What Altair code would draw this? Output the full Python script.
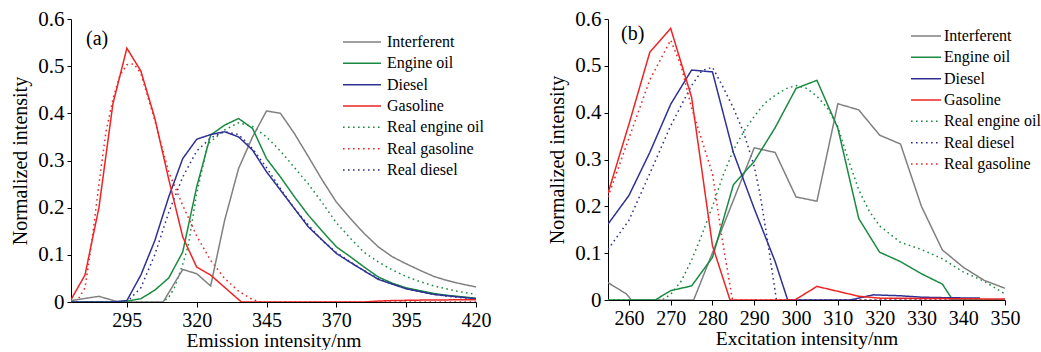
import altair as alt
import pandas as pd

FONT = "Liberation Serif"

SERIES_A = ["Interferent", "Engine oil", "Diesel", "Gasoline",
            "Real engine oil", "Real gasoline", "Real diesel"]
LABELS_A = ["Interferent", "Engine oil", "\u00a0Diesel", "\u00a0\u00a0Gasoline",
            "Real engine oil", "Real gasoline", "Real diesel"]
SERIES_B = ["Interferent", "Engine oil", "Diesel", "Gasoline",
            "Real engine oil", "Real diesel", "Real gasoline"]
LABELS_B = SERIES_B

ALL_SERIES = ["Interferent", "Engine oil", "Diesel", "Gasoline",
              "Real engine oil", "Real gasoline", "Real diesel"]
COLORS = ["#808080", "#1a8a42", "#2e3192", "#ee2424",
          "#1a8a42", "#ee2424", "#2e3192"]
DASHES = [[1, 0], [1, 0], [1, 0], [1, 0], [1.6, 3.4], [1.6, 3.4], [1.6, 3.4]]

# ---------------- Panel (a): emission ----------------
a_int_x = [275, 285, 292, 300, 308, 315, 320, 325, 330, 335, 340, 345, 350, 355, 360,
           365, 370, 375, 380, 385, 390, 395, 400, 405, 410, 415, 420]
a_int_y = [0.003, 0.012, 0.0, 0.0, 0.0, 0.069, 0.06, 0.034, 0.173, 0.283, 0.35, 0.405,
           0.4, 0.357, 0.308, 0.258, 0.212, 0.177, 0.145, 0.117, 0.096, 0.081, 0.067,
           0.054, 0.045, 0.038, 0.032]

a_oil_x = [275, 290, 295, 300, 305, 310, 315, 320, 325, 330, 335, 340, 345, 350, 355,
           360, 365, 370, 375, 380, 385, 390, 395, 400, 405, 410, 415, 420]
a_oil_y = [0.0, 0.0, 0.002, 0.007, 0.025, 0.051, 0.106, 0.244, 0.354, 0.375, 0.389,
           0.368, 0.304, 0.265, 0.223, 0.184, 0.15, 0.117, 0.096, 0.074, 0.053, 0.04,
           0.03, 0.024, 0.018, 0.014, 0.011, 0.008]

a_die_x = [275, 290, 295, 300, 305, 310, 315, 320, 325, 330, 335, 340, 345, 350, 355,
           360, 365, 370, 375, 380, 385, 390, 395, 400, 405, 410, 415, 420]
a_die_y = [0.0, 0.0, 0.003, 0.057, 0.13, 0.223, 0.304, 0.345, 0.355, 0.361, 0.35,
           0.322, 0.276, 0.237, 0.198, 0.159, 0.131, 0.103, 0.084, 0.066, 0.048, 0.038,
           0.028, 0.022, 0.016, 0.013, 0.01, 0.007]

a_gas_x = [275, 280, 285, 290, 295, 300, 305, 310, 315, 320, 325, 336, 380, 385, 390,
           400, 420]
a_gas_y = [0.005, 0.057, 0.2, 0.42, 0.538, 0.49, 0.39, 0.26, 0.138, 0.074, 0.057, 0.0,
           0.0, 0.002, 0.003, 0.004, 0.005]

a_roil_x = [275, 308, 310, 312, 315, 317, 320, 324, 330, 335, 340, 345, 350, 355, 360,
            365, 370, 375, 380, 385, 390, 395, 400, 405, 410, 415, 420]
a_roil_y = [0.0, 0.0, 0.01, 0.03, 0.08, 0.12, 0.23, 0.335, 0.365, 0.38, 0.372, 0.35,
            0.32, 0.285, 0.25, 0.21, 0.168, 0.135, 0.105, 0.085, 0.068, 0.054, 0.043,
            0.034, 0.027, 0.021, 0.016]

a_rgas_x = [275, 277, 280, 282.5, 285, 287.5, 290, 292.5, 295, 297.5, 300, 305, 310,
            315, 320, 325, 330, 335, 340, 343, 420]
a_rgas_y = [0.0, 0.0, 0.03, 0.13, 0.25, 0.36, 0.43, 0.48, 0.503, 0.505, 0.485, 0.385,
            0.275, 0.205, 0.14, 0.088, 0.05, 0.023, 0.005, 0.0, 0.0]

a_rdie_x = [275, 295, 300, 305, 310, 315, 320, 325, 330, 335, 340, 345, 350, 355, 360,
            365, 370, 375, 380, 385, 390, 395, 400, 405, 410, 415, 420]
a_rdie_y = [0.0, 0.0, 0.03, 0.1, 0.19, 0.265, 0.32, 0.348, 0.361, 0.355, 0.325, 0.285,
            0.24, 0.198, 0.163, 0.13, 0.105, 0.085, 0.066, 0.05, 0.038, 0.029, 0.022,
            0.016, 0.012, 0.009, 0.006]

# ---------------- Panel (b): excitation ----------------
b_int_x = [255, 259.4, 260.6, 275.5, 290, 295, 300, 305, 310, 315, 320, 325, 330, 335,
           340, 345, 350]
b_int_y = [0.037, 0.013, 0.0, 0.0, 0.325, 0.315, 0.22, 0.211, 0.419, 0.406, 0.352,
           0.333, 0.2, 0.107, 0.07, 0.042, 0.025]

b_oil_x = [255, 266.3, 270, 275, 280, 285, 290, 295, 300, 305, 310, 315, 320, 325, 330,
           335, 337.5, 350]
b_oil_y = [0.0, 0.0, 0.02, 0.03, 0.091, 0.246, 0.296, 0.368, 0.452, 0.469, 0.367, 0.174,
           0.102, 0.082, 0.056, 0.034, 0.0, 0.0]

b_die_x = [255, 260, 265, 270, 275, 280, 285, 290, 295, 298, 313, 318.5, 325, 330, 335,
           344]
b_die_y = [0.162, 0.223, 0.315, 0.418, 0.491, 0.487, 0.315, 0.195, 0.082, 0.0, 0.0,
           0.011, 0.009, 0.006, 0.005, 0.004]

b_gas_x = [255, 260, 265, 270, 275, 280, 284.2, 299.7, 305, 315, 320, 350]
b_gas_y = [0.228, 0.375, 0.529, 0.58, 0.433, 0.116, 0.0, 0.0, 0.029, 0.008, 0.004,
           0.002]

b_roil_x = [255, 268, 270, 272.5, 275, 277.5, 280, 282.5, 285, 287.5, 290, 292.5, 295,
            297.5, 300, 302.5, 305, 307.5, 310, 312.5, 315, 317.5, 320, 325, 330, 335,
            340, 345, 350]
b_roil_y = [0.0, 0.0, 0.012, 0.04, 0.085, 0.14, 0.2, 0.265, 0.32, 0.36, 0.392, 0.42,
            0.437, 0.451, 0.458, 0.452, 0.435, 0.41, 0.37, 0.3, 0.235, 0.19, 0.158,
            0.123, 0.108, 0.088, 0.06, 0.04, 0.013]

b_rdie_x = [255, 260, 265, 270, 275, 277.5, 280, 282.5, 285, 287.5, 290, 291.5, 293,
            294.2, 295.3, 350]
b_rdie_y = [0.108, 0.17, 0.27, 0.372, 0.458, 0.49, 0.497, 0.455, 0.41, 0.357, 0.285,
            0.22, 0.137, 0.066, 0.0, 0.0]

b_rgas_x = [255, 260, 265, 270, 272.5, 275, 277.5, 280, 281, 282.2, 283.4, 284.8, 350]
b_rgas_y = [0.22, 0.345, 0.47, 0.555, 0.5, 0.41, 0.34, 0.27, 0.209, 0.137, 0.073, 0.0,
            0.0]


def frame(pairs):
    rows = []
    for name, xs, ys in pairs:
        for xv, yv in zip(xs, ys):
            rows.append({"series": name, "x": xv, "y": yv})
    return pd.DataFrame(rows)


df_a = frame([
    ("Real engine oil", a_roil_x, a_roil_y),
    ("Real gasoline", a_rgas_x, a_rgas_y),
    ("Real diesel", a_rdie_x, a_rdie_y),
    ("Interferent", a_int_x, a_int_y),
    ("Engine oil", a_oil_x, a_oil_y),
    ("Diesel", a_die_x, a_die_y),
    ("Gasoline", a_gas_x, a_gas_y),
])
df_b = frame([
    ("Real engine oil", b_roil_x, b_roil_y),
    ("Real diesel", b_rdie_x, b_rdie_y),
    ("Real gasoline", b_rgas_x, b_rgas_y),
    ("Interferent", b_int_x, b_int_y),
    ("Engine oil", b_oil_x, b_oil_y),
    ("Diesel", b_die_x, b_die_y),
    ("Gasoline", b_gas_x, b_gas_y),
])

color_scale = alt.Scale(domain=ALL_SERIES, range=COLORS)
dash_scale = alt.Scale(domain=ALL_SERIES, range=DASHES)

Y_TICKS = [0, 0.1, 0.2, 0.3, 0.4, 0.5, 0.6]
A_TICKS = [295, 320, 345, 370, 395, 420]
B_TICKS = [260, 270, 280, 290, 300, 310, 320, 330, 340, 350]

AXIS_STYLE = dict(grid=False, domainColor="black", domainWidth=1, tickColor="black",
                  tickWidth=1, labelColor="black", titleColor="black", labelFont=FONT,
                  titleFont=FONT, titleFontWeight="normal", labelFlush=False,
                  labelOverlap=False)


def panel(df, xdom, xticks, xtitle, series, labels, tag, w, h, leg_x, leg_len,
          leg_text_x, leg_top, tag_xy):
    lines = alt.Chart(df).mark_line(strokeWidth=1.5, clip=True).encode(
        x=alt.X("x:Q", scale=alt.Scale(domain=xdom, nice=False, zero=False),
                axis=alt.Axis(values=xticks, title=xtitle, format="d", tickSize=5,
                              labelPadding=3, titlePadding=1, labelFontSize=20,
                              titleFontSize=19.5, **AXIS_STYLE)),
        y=alt.Y("y:Q", scale=alt.Scale(domain=[0, 0.6], nice=False),
                axis=alt.Axis(values=Y_TICKS, title="Normalized intensity",
                              tickSize=4, labelPadding=3, titlePadding=7,
                              labelFontSize=21, titleFontSize=20,
                              labelExpr="datum.value == 0 ? '0' : format(datum.value, '.1f')",
                              **AXIS_STYLE)),
        color=alt.Color("series:N", scale=color_scale, legend=None),
        strokeDash=alt.StrokeDash("series:N", scale=dash_scale, legend=None),
        detail="series:N",
    )
    leg_df = pd.DataFrame({"series": series, "label": labels})
    ly = alt.Y("series:N", sort=series,
               scale=alt.Scale(type="point", range=[leg_top, leg_top + 128], padding=0),
               axis=None)
    leg_rule = alt.Chart(leg_df).mark_rule(strokeWidth=1.5).encode(
        x=alt.value(leg_x), x2=alt.value(leg_x + leg_len), y=ly,
        color=alt.Color("series:N", scale=color_scale, legend=None),
        strokeDash=alt.StrokeDash("series:N", scale=dash_scale, legend=None),
    )
    leg_text = alt.Chart(leg_df).mark_text(
        align="left", baseline="middle", font=FONT, fontSize=16, color="black"
    ).encode(x=alt.value(leg_text_x), y=ly, text="label:N")
    tag_text = alt.Chart(pd.DataFrame({"t": [tag]})).mark_text(
        align="left", baseline="middle", font=FONT, fontSize=20, color="black"
    ).encode(x=alt.value(tag_xy[0]), y=alt.value(tag_xy[1]), text="t:N")
    return alt.layer(lines, leg_rule, leg_text, tag_text).resolve_scale(
        y="independent").properties(width=w, height=h)


pa = panel(df_a, [275, 420], A_TICKS, "Emission intensity/nm", SERIES_A, LABELS_A,
           "(a)", 405, 283, 272, 38, 316, 23, (15, 20))
pb = panel(df_b, [255, 350], B_TICKS, "Excitation intensity/nm", SERIES_B, LABELS_B,
           "(b)", 397, 281, 303, 30, 336, 17, (13, 15))

chart = alt.hconcat(pa, pb, spacing=132, bounds="flush").properties(
    padding={"left": 10, "top": 8, "right": 0, "bottom": 0},
    background="white",
).configure_view(stroke=None)

chart.save("out.html", embed_options={"renderer": "svg", "actions": False})
